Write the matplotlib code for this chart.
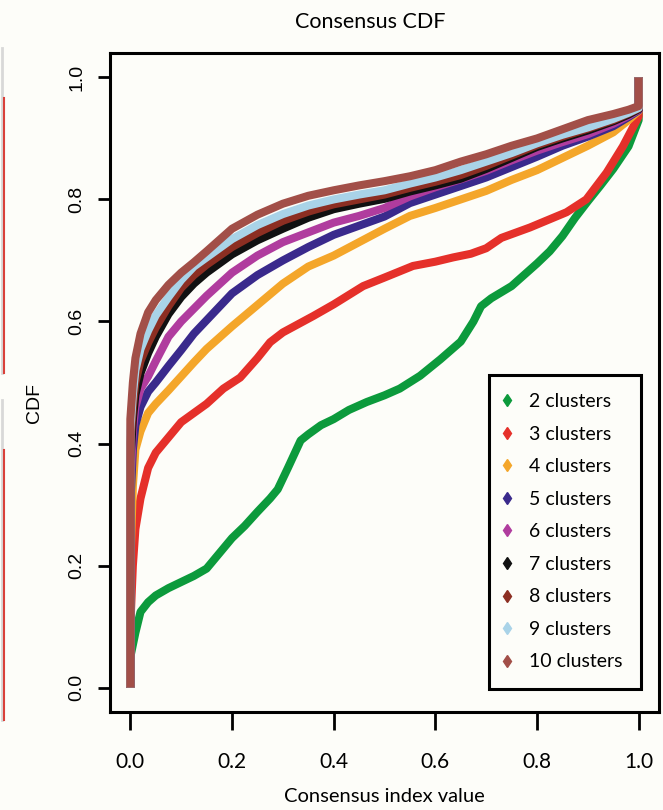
import numpy as np
import matplotlib
matplotlib.use("Agg")
import matplotlib.pyplot as plt
from matplotlib.lines import Line2D

# consensus index grid (0 and 1 repeated for the vertical jumps of the CDF)
x_grid = [0, 0, 0.005, 0.01, 0.02, 0.035, 0.05, 0.075, 0.1, 0.125, 0.15, 0.2, 0.25,
          0.3, 0.35, 0.4, 0.45, 0.5, 0.55, 0.6, 0.65, 0.7, 0.75, 0.8, 0.85, 0.9,
          0.95, 0.98, 1.0, 1.0]

# k=2 and k=3 read at their own points (more wiggle)
x_k2 = [0, 0, 0.005, 0.01, 0.02, 0.035, 0.05, 0.075, 0.1, 0.125, 0.15, 0.175, 0.2, 0.225,
        0.25, 0.275, 0.29, 0.31, 0.335, 0.35, 0.375, 0.4, 0.43, 0.465, 0.5, 0.53, 0.57,
        0.61, 0.65, 0.675, 0.69, 0.71, 0.75, 0.8, 0.825, 0.85, 0.875, 0.9, 0.925, 0.95,
        0.98, 1.0, 1.0]
cdf_k2 = [0, 0.05, 0.07, 0.09, 0.124, 0.14, 0.151, 0.163, 0.173, 0.183, 0.195, 0.22, 0.245,
          0.265, 0.288, 0.31, 0.325, 0.36, 0.405, 0.415, 0.43, 0.44, 0.455, 0.468, 0.479,
          0.49, 0.511, 0.538, 0.567, 0.60, 0.625, 0.638, 0.658, 0.695, 0.715, 0.74, 0.77,
          0.797, 0.823, 0.85, 0.887, 0.93, 1.0]

x_k3 = [0, 0, 0.005, 0.01, 0.02, 0.035, 0.05, 0.075, 0.1, 0.125, 0.15, 0.183, 0.216, 0.25,
        0.275, 0.3, 0.36, 0.4, 0.458, 0.5, 0.556, 0.6, 0.635, 0.67, 0.70, 0.73, 0.786, 0.858,
        0.897, 0.937, 0.969, 1.0, 1.0]
cdf_k3 = [0, 0.10, 0.20, 0.26, 0.31, 0.36, 0.385, 0.41, 0.435, 0.45, 0.465, 0.49, 0.508,
          0.54, 0.566, 0.582, 0.609, 0.628, 0.658, 0.672, 0.691, 0.698, 0.705, 0.711, 0.72,
          0.737, 0.754, 0.779, 0.80, 0.844, 0.887, 0.936, 1.0]

cdf_k4 = [0, 0.20, 0.33, 0.39, 0.42, 0.45, 0.465, 0.487, 0.51, 0.533, 0.555, 0.592, 0.627,
          0.662, 0.69, 0.708, 0.73, 0.752, 0.773, 0.786, 0.80, 0.814, 0.832, 0.848, 0.868, 0.888,
          0.91, 0.93, 0.945, 1.0]
cdf_k5 = [0, 0.30, 0.39, 0.43, 0.46, 0.485, 0.50, 0.527, 0.553, 0.58, 0.602, 0.646, 0.676,
          0.70, 0.722, 0.742, 0.757, 0.772, 0.794, 0.808, 0.822, 0.836, 0.853, 0.87, 0.888, 0.903,
          0.92, 0.935, 0.946, 1.0]
cdf_k6 = [0, 0.33, 0.42, 0.46, 0.49, 0.51, 0.535, 0.575, 0.60, 0.621, 0.642, 0.68, 0.708,
          0.73, 0.746, 0.762, 0.773, 0.786, 0.805, 0.82, 0.833, 0.847, 0.864, 0.88, 0.894, 0.907,
          0.924, 0.937, 0.947, 1.0]
cdf_k7 = [0, 0.37, 0.44, 0.48, 0.515, 0.548, 0.575, 0.612, 0.64, 0.662, 0.68, 0.71, 0.733,
          0.752, 0.77, 0.784, 0.793, 0.801, 0.813, 0.823, 0.834, 0.85, 0.868, 0.886, 0.90, 0.913,
          0.928, 0.939, 0.948, 1.0]
cdf_k8 = [0, 0.40, 0.46, 0.50, 0.535, 0.565, 0.59, 0.625, 0.655, 0.676, 0.693, 0.722, 0.745,
          0.765, 0.78, 0.792, 0.80, 0.808, 0.819, 0.829, 0.84, 0.855, 0.872, 0.889, 0.903, 0.916,
          0.93, 0.941, 0.949, 1.0]
cdf_k9 = [0, 0.42, 0.48, 0.52, 0.555, 0.585, 0.61, 0.64, 0.668, 0.69, 0.705, 0.735, 0.758,
          0.776, 0.79, 0.80, 0.808, 0.815, 0.826, 0.836, 0.848, 0.862, 0.876, 0.892, 0.906, 0.918,
          0.932, 0.942, 0.95, 1.0]
cdf_k10 = [0, 0.44, 0.50, 0.54, 0.58, 0.615, 0.635, 0.66, 0.68, 0.697, 0.715, 0.752, 0.775,
           0.793, 0.806, 0.815, 0.823, 0.83, 0.838, 0.848, 0.862, 0.874, 0.888, 0.90, 0.915, 0.93,
           0.94, 0.947, 0.953, 1.0]

xs = [x_k2, x_k3] + [x_grid] * 7
series = [cdf_k2, cdf_k3, cdf_k4, cdf_k5, cdf_k6, cdf_k7, cdf_k8, cdf_k9, cdf_k10]
labels = ["2 clusters", "3 clusters", "4 clusters", "5 clusters", "6 clusters",
          "7 clusters", "8 clusters", "9 clusters", "10 clusters"]
colors = ["#0c9a3c", "#e5302a", "#f4a62a", "#3a2a8c", "#b03c9e",
          "#111111", "#8c2e22", "#a9d3e8", "#a24f48"]

ticks = [0.0, 0.2, 0.4, 0.6, 0.8, 1.0]

humanist = ["Lato", "DejaVu Sans"]
arial = ["Liberation Sans", "DejaVu Sans"]
bg = "#fdfdf9"

fig = plt.figure(figsize=(6.63, 8.10), dpi=100, facecolor=bg)
ax = fig.add_axes([110 / 663, 98 / 810, 549 / 663, 659 / 810])
ax.set_facecolor(bg)

for x, y, c in zip(xs, series, colors):
    ax.plot(x, y, color=c, lw=5.8, solid_capstyle="butt", solid_joinstyle="round")

ax.set_xlim(-0.04, 1.04)
ax.set_ylim(-0.04, 1.04)
for s in ax.spines.values():
    s.set_linewidth(2.2)

ax.set_xticks(ticks)
ax.set_xticklabels([f"{t:.1f}" for t in ticks], family=humanist, fontsize=15)
ax.set_yticks(ticks)
ax.set_yticklabels([f"{t:.1f}" for t in ticks], family=arial, fontsize=14,
                   rotation=90, va="center")
ax.tick_params(axis="x", length=12.7, width=2, pad=16)
ax.tick_params(axis="y", length=8.6, width=2, pad=9)

handles = [Line2D([], [], marker="d", color=c, linestyle="none", markersize=6.5)
           for c in colors]
leg = ax.legend(handles, labels, loc="lower right", bbox_to_anchor=(0.9665, 0.035),
                borderaxespad=0, frameon=True, fancybox=False, framealpha=1,
                edgecolor="black", facecolor=bg, handlelength=0.0, handletextpad=1.1,
                borderpad=0.95, labelspacing=0.8, prop={"family": humanist, "size": 14})
leg.get_frame().set_linewidth(2.2)

fig.text(370 / 663, 1 - 22 / 810, "Consensus CDF", ha="center", va="center",
         family=humanist, fontsize=15.5)
fig.text(384 / 663, 1 - 797 / 810, "Consensus index value", ha="center", va="center",
         family=humanist, fontsize=14.5)
fig.text(35 / 663, 1 - 403 / 810, "CDF", ha="center", va="center", rotation=90,
         family=arial, fontsize=14)

# edge of the neighbouring panel, cut off at the left border
for y0, y1 in [(48, 373), (400, 720)]:
    fig.add_artist(Line2D([1.5 / 663, 1.5 / 663], [1 - y0 / 810, 1 - y1 / 810],
                          transform=fig.transFigure, color="#d8d8d8", lw=2))
    fig.add_artist(Line2D([4 / 663, 4 / 663], [1 - (y0 + 50) / 810, 1 - y1 / 810],
                          transform=fig.transFigure, color="#d9403a", lw=1.5))

fig.savefig("out.png", dpi=100, facecolor=bg)
